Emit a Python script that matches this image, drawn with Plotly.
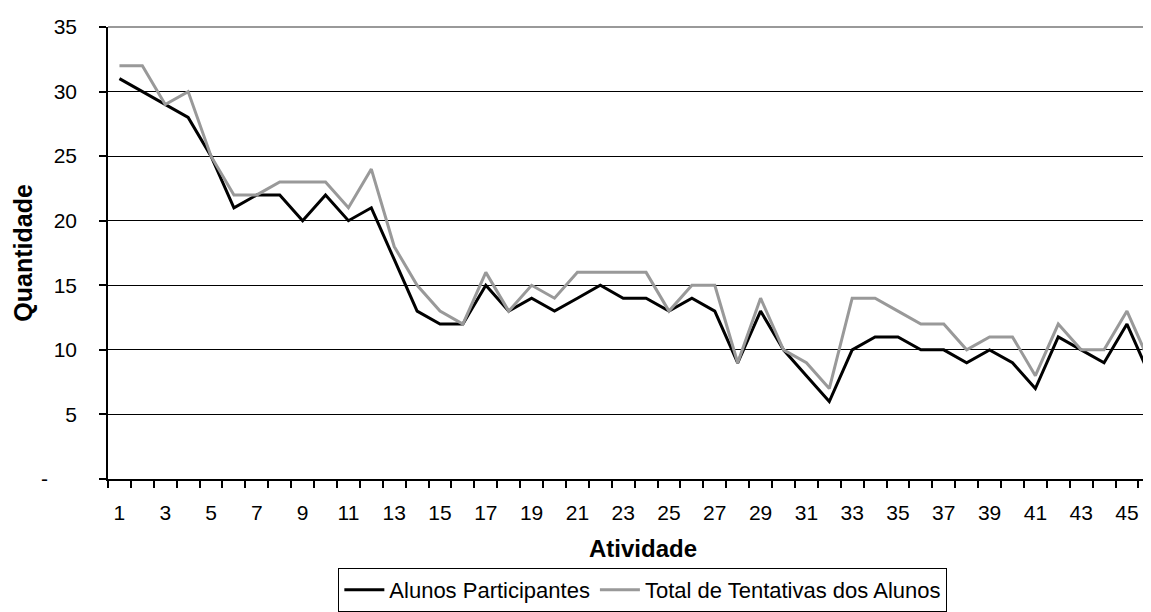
import plotly.graph_objects as go

atividade = list(range(1, 47))
alunos_participantes = [31, 30, 29, 28, 25, 21, 22, 22, 20, 22, 20, 21, 17, 13, 12, 12, 15, 13, 14, 13,
                        14, 15, 14, 14, 13, 14, 13, 9, 13, 10, 8, 6, 10, 11, 11, 10, 10, 9, 10, 9,
                        7, 11, 10, 9, 12, 8]
total_tentativas = [32, 32, 29, 30, 25, 22, 22, 23, 23, 23, 21, 24, 18, 15, 13, 12, 16, 13, 15, 14,
                    16, 16, 16, 16, 13, 15, 15, 9, 14, 10, 9, 7, 14, 14, 13, 12, 12, 10, 11, 11,
                    8, 12, 10, 10, 13, 9]
y_tickvals = [0, 5, 10, 15, 20, 25, 30, 35]
y_ticktext = ["-" + "\u00a0" * 5, "5", "10", "15", "20", "25", "30", "35"]
x_tickvals = list(range(1, 46, 2))

FONT = "Liberation Sans, Arial, sans-serif"

fig = go.Figure()
fig.add_trace(go.Scatter(x=atividade, y=alunos_participantes, mode="lines",
                         name="Alunos Participantes",
                         line=dict(color="#000000", width=3)))
fig.add_trace(go.Scatter(x=atividade, y=total_tentativas, mode="lines",
                         name="Total de Tentativas dos Alunos",
                         line=dict(color="#999999", width=3)))

# the page body has an 8px margin, so the figure is laid out 8px up/left
fig.update_layout(
    width=1143, height=604,
    margin=dict(l=100, r=0, t=19, b=124),
    paper_bgcolor="white", plot_bgcolor="white",
    font=dict(family=FONT, size=21, color="black"),
    showlegend=True,
    legend=dict(orientation="h", x=0.5128, xanchor="center", y=-0.198, yanchor="top",
                bordercolor="black", borderwidth=1, font=dict(size=22),
                itemwidth=40, tracegroupgap=0),
    xaxis=dict(range=[0.5, 46.05], tickvals=x_tickvals, ticks="", showgrid=False,
               zeroline=False, showline=True, linecolor="black", linewidth=1.5,
               ticklabelstandoff=14,
               minor=dict(ticks="outside", tick0=0.5, dtick=1, ticklen=7,
                          tickcolor="black", tickwidth=1.5, showgrid=False)),
    yaxis=dict(range=[0, 35], tickvals=y_tickvals, ticktext=y_ticktext,
               ticks="outside", ticklen=7, tickcolor="black", tickwidth=1.5,
               showgrid=True, gridcolor="black", gridwidth=1.3,
               zeroline=False, showline=True, linecolor="black", linewidth=1.5,
               ticklabelstandoff=18),
    annotations=[
        dict(text="<b>Atividade</b>", xref="paper", yref="paper", x=0.5128, y=-0.1527,
             xanchor="center", yanchor="middle", showarrow=False, font=dict(size=24)),
        dict(text="<b>Quantidade</b>", xref="paper", yref="paper", x=-0.0818, y=0.5,
             xanchor="center", yanchor="middle", textangle=-90, showarrow=False,
             font=dict(size=25)),
    ],
    shapes=[dict(type="line", xref="paper", yref="paper", x0=0, x1=1, y0=1, y1=1,
                 line=dict(color="#999999", width=2))],
)

fig.write_html("out.html")
